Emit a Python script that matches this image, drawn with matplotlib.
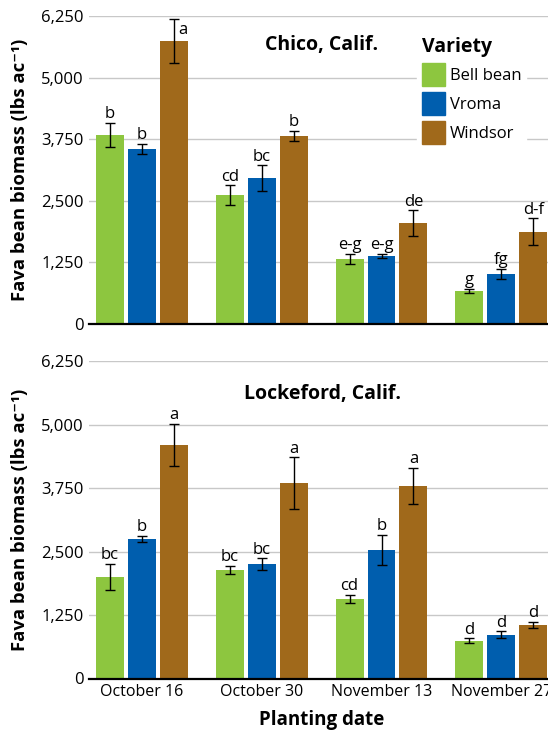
import numpy as np
import matplotlib
matplotlib.use("Agg")
import matplotlib.pyplot as plt
import matplotlib.patches as mpatches

plt.rcParams["font.family"] = ["Open Sans", "DejaVu Sans"]

# ── data ──────────────────────────────────────
DATES = ["October 16", "October 30", "November 13", "November 27"]
VARIETIES = ["Bell bean", "Vroma", "Windsor"]
COLORS = ["#8dc63f", "#005eae", "#a0691b"]
YTICKS = [0, 1250, 2500, 3750, 5000, 6250]

chico_bell = [3835, 2618, 1319, 670]
chico_vroma = [3551, 2963, 1380, 1015]
chico_windsor = [5743, 3815, 2050, 1867]
chico_bell_err = [245, 195, 100, 40]
chico_vroma_err = [100, 255, 47, 100]
chico_windsor_err = [450, 108, 257, 274]
chico_bell_lbl = ["b", "cd", "e-g", "g"]
chico_vroma_lbl = ["b", "bc", "e-g", "fg"]
chico_windsor_lbl = ["a", "b", "de", "d-f"]

lock_bell = [2002, 2140, 1569, 742]
lock_vroma = [2751, 2258, 2534, 860]
lock_windsor = [4602, 3854, 3795, 1057]
lock_bell_err = [262, 80, 82, 52]
lock_vroma_err = [60, 112, 302, 69]
lock_windsor_err = [420, 505, 354, 65]
lock_bell_lbl = ["bc", "bc", "cd", "d"]
lock_vroma_lbl = ["b", "bc", "b", "d"]
lock_windsor_lbl = ["a", "a", "a", "d"]

W, H = 548, 732
fig = plt.figure(figsize=(W / 100, H / 100), dpi=100)


def px_axes(left, right, top, bottom):
    return fig.add_axes([left / W, 1 - bottom / H, (right - left) / W, (bottom - top) / H])


def draw_panel(ax, vals, errs, lbls, show_x):
    x = np.arange(len(DATES))
    width = 28 / 120
    step = 32 / 120
    for i in range(3):
        pos = x + (i - 1) * step
        ax.bar(pos, vals[i], width=width, color=COLORS[i], zorder=2)
        ax.errorbar(pos, vals[i], yerr=errs[i], fmt="none", ecolor="black",
                    elinewidth=1.0, capsize=3.5, capthick=1.0, zorder=3, clip_on=False)
        for p, v, e, t in zip(pos, vals[i], errs[i], lbls[i]):
            if v + e + 300 > YTICKS[-1]:
                ax.annotate(t, (p, v + e), xytext=(3, -2), textcoords="offset points",
                            ha="left", va="top", fontsize=12, annotation_clip=False)
            else:
                ax.annotate(t, (p, v + e), xytext=(0, 0.5), textcoords="offset points",
                            ha="center", va="bottom", fontsize=12, annotation_clip=False)
    ax.set_xlim(-0.442, 3.39)
    ax.set_ylim(0, YTICKS[-1])
    ax.set_yticks(YTICKS)
    ax.set_yticklabels([f"{v:,}" for v in YTICKS], fontsize=12)
    ax.grid(axis="y", color="#c8c8c8", linewidth=1.0, zorder=0)
    ax.set_axisbelow(True)
    for s in ["left", "right", "top"]:
        ax.spines[s].set_visible(False)
    ax.spines["bottom"].set_linewidth(1.6)
    ax.spines["bottom"].set_zorder(4)
    ax.tick_params(axis="y", length=0, pad=4)
    ax.tick_params(axis="x", length=0, pad=4)
    ax.set_xticks(x)
    if show_x:
        ax.set_xticklabels(DATES, fontsize=11.5)
    else:
        ax.set_xticklabels([])
    ax.set_ylabel("Fava bean biomass (lbs ac\u207b\u00b9)", fontsize=13.3, fontweight="bold")
    ax.yaxis.set_label_coords(-0.13, 0.5)


ax1 = px_axes(89, 548, 16, 324)
draw_panel(ax1,
           [chico_bell, chico_vroma, chico_windsor],
           [chico_bell_err, chico_vroma_err, chico_windsor_err],
           [chico_bell_lbl, chico_vroma_lbl, chico_windsor_lbl], False)

ax2 = px_axes(89, 548, 361.3, 678.5)
draw_panel(ax2,
           [lock_bell, lock_vroma, lock_windsor],
           [lock_bell_err, lock_vroma_err, lock_windsor_err],
           [lock_bell_lbl, lock_vroma_lbl, lock_windsor_lbl], True)

fig.text(322 / W, 1 - 45 / H, "Chico, Calif.", ha="center", va="center",
         fontsize=14, fontweight="bold")
fig.text(322 / W, 1 - 394 / H, "Lockeford, Calif.", ha="center", va="center",
         fontsize=14, fontweight="bold")
fig.text(322 / W, 1 - 720 / H, "Planting date", ha="center", va="center",
         fontsize=13.5, fontweight="bold")

handles = [mpatches.Patch(color=c, label=v) for c, v in zip(COLORS, VARIETIES)]
leg = ax1.legend(handles=handles, title="Variety", loc="upper left",
                 bbox_to_anchor=(417 / W, 1 - 32 / H), bbox_transform=fig.transFigure,
                 fontsize=12, title_fontproperties={"weight": "bold", "size": 14},
                 frameon=True, fancybox=False, framealpha=1, edgecolor="white",
                 handlelength=1.35, handleheight=1.75, labelspacing=0.36,
                 handletextpad=0.3, borderpad=0.3, borderaxespad=0)
leg._legend_box.align = "left"
leg.set_zorder(5)

plt.savefig("out.png", dpi=100)
